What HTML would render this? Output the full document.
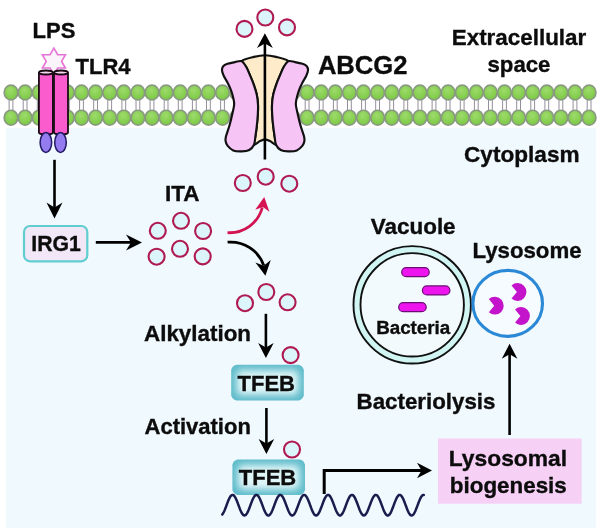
<!DOCTYPE html>
<html><head><meta charset="utf-8"><style>html,body{margin:0;padding:0;background:#fff;}svg{display:block;}</style></head>
<body><svg style="will-change:transform" width="600" height="528" viewBox="0 0 600 528">
<defs>
<radialGradient id="lip" cx="0.45" cy="0.35" r="0.65">
<stop offset="0" stop-color="#9edb6c"/><stop offset="1" stop-color="#7ac942"/></radialGradient>
<radialGradient id="tfeb" cx="0.5" cy="0.5" r="0.62" fx="0.5" fy="0.5">
<stop offset="0" stop-color="#d6f2f5"/><stop offset="0.55" stop-color="#a9dfe6"/><stop offset="1" stop-color="#5fbac9"/></radialGradient>
<filter id="glow" x="-30%" y="-50%" width="160%" height="200%"><feGaussianBlur stdDeviation="3.6"/></filter>
</defs>
<rect x="6" y="128" width="590" height="400" fill="#f0f9fd"/>
<g id="membrane">
<line x1="9.10" y1="100" x2="9.10" y2="110" stroke="#948f9c" stroke-width="1.0"/>
<line x1="12.90" y1="100" x2="12.90" y2="110" stroke="#948f9c" stroke-width="1.0"/>
<line x1="23.20" y1="100" x2="23.20" y2="110" stroke="#948f9c" stroke-width="1.0"/>
<line x1="27.00" y1="100" x2="27.00" y2="110" stroke="#948f9c" stroke-width="1.0"/>
<line x1="37.30" y1="100" x2="37.30" y2="110" stroke="#948f9c" stroke-width="1.0"/>
<line x1="41.10" y1="100" x2="41.10" y2="110" stroke="#948f9c" stroke-width="1.0"/>
<line x1="51.40" y1="100" x2="51.40" y2="110" stroke="#948f9c" stroke-width="1.0"/>
<line x1="55.20" y1="100" x2="55.20" y2="110" stroke="#948f9c" stroke-width="1.0"/>
<line x1="65.50" y1="100" x2="65.50" y2="110" stroke="#948f9c" stroke-width="1.0"/>
<line x1="69.30" y1="100" x2="69.30" y2="110" stroke="#948f9c" stroke-width="1.0"/>
<line x1="79.60" y1="100" x2="79.60" y2="110" stroke="#948f9c" stroke-width="1.0"/>
<line x1="83.40" y1="100" x2="83.40" y2="110" stroke="#948f9c" stroke-width="1.0"/>
<line x1="93.70" y1="100" x2="93.70" y2="110" stroke="#948f9c" stroke-width="1.0"/>
<line x1="97.50" y1="100" x2="97.50" y2="110" stroke="#948f9c" stroke-width="1.0"/>
<line x1="107.80" y1="100" x2="107.80" y2="110" stroke="#948f9c" stroke-width="1.0"/>
<line x1="111.60" y1="100" x2="111.60" y2="110" stroke="#948f9c" stroke-width="1.0"/>
<line x1="121.90" y1="100" x2="121.90" y2="110" stroke="#948f9c" stroke-width="1.0"/>
<line x1="125.70" y1="100" x2="125.70" y2="110" stroke="#948f9c" stroke-width="1.0"/>
<line x1="136.00" y1="100" x2="136.00" y2="110" stroke="#948f9c" stroke-width="1.0"/>
<line x1="139.80" y1="100" x2="139.80" y2="110" stroke="#948f9c" stroke-width="1.0"/>
<line x1="150.10" y1="100" x2="150.10" y2="110" stroke="#948f9c" stroke-width="1.0"/>
<line x1="153.90" y1="100" x2="153.90" y2="110" stroke="#948f9c" stroke-width="1.0"/>
<line x1="164.20" y1="100" x2="164.20" y2="110" stroke="#948f9c" stroke-width="1.0"/>
<line x1="168.00" y1="100" x2="168.00" y2="110" stroke="#948f9c" stroke-width="1.0"/>
<line x1="178.30" y1="100" x2="178.30" y2="110" stroke="#948f9c" stroke-width="1.0"/>
<line x1="182.10" y1="100" x2="182.10" y2="110" stroke="#948f9c" stroke-width="1.0"/>
<line x1="192.40" y1="100" x2="192.40" y2="110" stroke="#948f9c" stroke-width="1.0"/>
<line x1="196.20" y1="100" x2="196.20" y2="110" stroke="#948f9c" stroke-width="1.0"/>
<line x1="206.50" y1="100" x2="206.50" y2="110" stroke="#948f9c" stroke-width="1.0"/>
<line x1="210.30" y1="100" x2="210.30" y2="110" stroke="#948f9c" stroke-width="1.0"/>
<line x1="220.60" y1="100" x2="220.60" y2="110" stroke="#948f9c" stroke-width="1.0"/>
<line x1="224.40" y1="100" x2="224.40" y2="110" stroke="#948f9c" stroke-width="1.0"/>
<line x1="234.70" y1="100" x2="234.70" y2="110" stroke="#948f9c" stroke-width="1.0"/>
<line x1="238.50" y1="100" x2="238.50" y2="110" stroke="#948f9c" stroke-width="1.0"/>
<line x1="248.80" y1="100" x2="248.80" y2="110" stroke="#948f9c" stroke-width="1.0"/>
<line x1="252.60" y1="100" x2="252.60" y2="110" stroke="#948f9c" stroke-width="1.0"/>
<line x1="262.90" y1="100" x2="262.90" y2="110" stroke="#948f9c" stroke-width="1.0"/>
<line x1="266.70" y1="100" x2="266.70" y2="110" stroke="#948f9c" stroke-width="1.0"/>
<line x1="277.00" y1="100" x2="277.00" y2="110" stroke="#948f9c" stroke-width="1.0"/>
<line x1="280.80" y1="100" x2="280.80" y2="110" stroke="#948f9c" stroke-width="1.0"/>
<line x1="291.10" y1="100" x2="291.10" y2="110" stroke="#948f9c" stroke-width="1.0"/>
<line x1="294.90" y1="100" x2="294.90" y2="110" stroke="#948f9c" stroke-width="1.0"/>
<line x1="305.20" y1="100" x2="305.20" y2="110" stroke="#948f9c" stroke-width="1.0"/>
<line x1="309.00" y1="100" x2="309.00" y2="110" stroke="#948f9c" stroke-width="1.0"/>
<line x1="319.30" y1="100" x2="319.30" y2="110" stroke="#948f9c" stroke-width="1.0"/>
<line x1="323.10" y1="100" x2="323.10" y2="110" stroke="#948f9c" stroke-width="1.0"/>
<line x1="333.40" y1="100" x2="333.40" y2="110" stroke="#948f9c" stroke-width="1.0"/>
<line x1="337.20" y1="100" x2="337.20" y2="110" stroke="#948f9c" stroke-width="1.0"/>
<line x1="347.50" y1="100" x2="347.50" y2="110" stroke="#948f9c" stroke-width="1.0"/>
<line x1="351.30" y1="100" x2="351.30" y2="110" stroke="#948f9c" stroke-width="1.0"/>
<line x1="361.60" y1="100" x2="361.60" y2="110" stroke="#948f9c" stroke-width="1.0"/>
<line x1="365.40" y1="100" x2="365.40" y2="110" stroke="#948f9c" stroke-width="1.0"/>
<line x1="375.70" y1="100" x2="375.70" y2="110" stroke="#948f9c" stroke-width="1.0"/>
<line x1="379.50" y1="100" x2="379.50" y2="110" stroke="#948f9c" stroke-width="1.0"/>
<line x1="389.80" y1="100" x2="389.80" y2="110" stroke="#948f9c" stroke-width="1.0"/>
<line x1="393.60" y1="100" x2="393.60" y2="110" stroke="#948f9c" stroke-width="1.0"/>
<line x1="403.90" y1="100" x2="403.90" y2="110" stroke="#948f9c" stroke-width="1.0"/>
<line x1="407.70" y1="100" x2="407.70" y2="110" stroke="#948f9c" stroke-width="1.0"/>
<line x1="418.00" y1="100" x2="418.00" y2="110" stroke="#948f9c" stroke-width="1.0"/>
<line x1="421.80" y1="100" x2="421.80" y2="110" stroke="#948f9c" stroke-width="1.0"/>
<line x1="432.10" y1="100" x2="432.10" y2="110" stroke="#948f9c" stroke-width="1.0"/>
<line x1="435.90" y1="100" x2="435.90" y2="110" stroke="#948f9c" stroke-width="1.0"/>
<line x1="446.20" y1="100" x2="446.20" y2="110" stroke="#948f9c" stroke-width="1.0"/>
<line x1="450.00" y1="100" x2="450.00" y2="110" stroke="#948f9c" stroke-width="1.0"/>
<line x1="460.30" y1="100" x2="460.30" y2="110" stroke="#948f9c" stroke-width="1.0"/>
<line x1="464.10" y1="100" x2="464.10" y2="110" stroke="#948f9c" stroke-width="1.0"/>
<line x1="474.40" y1="100" x2="474.40" y2="110" stroke="#948f9c" stroke-width="1.0"/>
<line x1="478.20" y1="100" x2="478.20" y2="110" stroke="#948f9c" stroke-width="1.0"/>
<line x1="488.50" y1="100" x2="488.50" y2="110" stroke="#948f9c" stroke-width="1.0"/>
<line x1="492.30" y1="100" x2="492.30" y2="110" stroke="#948f9c" stroke-width="1.0"/>
<line x1="502.60" y1="100" x2="502.60" y2="110" stroke="#948f9c" stroke-width="1.0"/>
<line x1="506.40" y1="100" x2="506.40" y2="110" stroke="#948f9c" stroke-width="1.0"/>
<line x1="516.70" y1="100" x2="516.70" y2="110" stroke="#948f9c" stroke-width="1.0"/>
<line x1="520.50" y1="100" x2="520.50" y2="110" stroke="#948f9c" stroke-width="1.0"/>
<line x1="530.80" y1="100" x2="530.80" y2="110" stroke="#948f9c" stroke-width="1.0"/>
<line x1="534.60" y1="100" x2="534.60" y2="110" stroke="#948f9c" stroke-width="1.0"/>
<line x1="544.90" y1="100" x2="544.90" y2="110" stroke="#948f9c" stroke-width="1.0"/>
<line x1="548.70" y1="100" x2="548.70" y2="110" stroke="#948f9c" stroke-width="1.0"/>
<line x1="559.00" y1="100" x2="559.00" y2="110" stroke="#948f9c" stroke-width="1.0"/>
<line x1="562.80" y1="100" x2="562.80" y2="110" stroke="#948f9c" stroke-width="1.0"/>
<line x1="573.10" y1="100" x2="573.10" y2="110" stroke="#948f9c" stroke-width="1.0"/>
<line x1="576.90" y1="100" x2="576.90" y2="110" stroke="#948f9c" stroke-width="1.0"/>
<line x1="587.20" y1="100" x2="587.20" y2="110" stroke="#948f9c" stroke-width="1.0"/>
<line x1="591.00" y1="100" x2="591.00" y2="110" stroke="#948f9c" stroke-width="1.0"/>
<ellipse cx="11.00" cy="92.5" rx="6.8" ry="7.45" fill="url(#lip)" stroke="#8a9a82" stroke-width="1.7"/>
<ellipse cx="11.00" cy="117.7" rx="6.8" ry="7.45" fill="url(#lip)" stroke="#8a9a82" stroke-width="1.7"/>
<ellipse cx="25.10" cy="92.5" rx="6.8" ry="7.45" fill="url(#lip)" stroke="#8a9a82" stroke-width="1.7"/>
<ellipse cx="25.10" cy="117.7" rx="6.8" ry="7.45" fill="url(#lip)" stroke="#8a9a82" stroke-width="1.7"/>
<ellipse cx="39.20" cy="92.5" rx="6.8" ry="7.45" fill="url(#lip)" stroke="#8a9a82" stroke-width="1.7"/>
<ellipse cx="39.20" cy="117.7" rx="6.8" ry="7.45" fill="url(#lip)" stroke="#8a9a82" stroke-width="1.7"/>
<ellipse cx="53.30" cy="92.5" rx="6.8" ry="7.45" fill="url(#lip)" stroke="#8a9a82" stroke-width="1.7"/>
<ellipse cx="53.30" cy="117.7" rx="6.8" ry="7.45" fill="url(#lip)" stroke="#8a9a82" stroke-width="1.7"/>
<ellipse cx="67.40" cy="92.5" rx="6.8" ry="7.45" fill="url(#lip)" stroke="#8a9a82" stroke-width="1.7"/>
<ellipse cx="67.40" cy="117.7" rx="6.8" ry="7.45" fill="url(#lip)" stroke="#8a9a82" stroke-width="1.7"/>
<ellipse cx="81.50" cy="92.5" rx="6.8" ry="7.45" fill="url(#lip)" stroke="#8a9a82" stroke-width="1.7"/>
<ellipse cx="81.50" cy="117.7" rx="6.8" ry="7.45" fill="url(#lip)" stroke="#8a9a82" stroke-width="1.7"/>
<ellipse cx="95.60" cy="92.5" rx="6.8" ry="7.45" fill="url(#lip)" stroke="#8a9a82" stroke-width="1.7"/>
<ellipse cx="95.60" cy="117.7" rx="6.8" ry="7.45" fill="url(#lip)" stroke="#8a9a82" stroke-width="1.7"/>
<ellipse cx="109.70" cy="92.5" rx="6.8" ry="7.45" fill="url(#lip)" stroke="#8a9a82" stroke-width="1.7"/>
<ellipse cx="109.70" cy="117.7" rx="6.8" ry="7.45" fill="url(#lip)" stroke="#8a9a82" stroke-width="1.7"/>
<ellipse cx="123.80" cy="92.5" rx="6.8" ry="7.45" fill="url(#lip)" stroke="#8a9a82" stroke-width="1.7"/>
<ellipse cx="123.80" cy="117.7" rx="6.8" ry="7.45" fill="url(#lip)" stroke="#8a9a82" stroke-width="1.7"/>
<ellipse cx="137.90" cy="92.5" rx="6.8" ry="7.45" fill="url(#lip)" stroke="#8a9a82" stroke-width="1.7"/>
<ellipse cx="137.90" cy="117.7" rx="6.8" ry="7.45" fill="url(#lip)" stroke="#8a9a82" stroke-width="1.7"/>
<ellipse cx="152.00" cy="92.5" rx="6.8" ry="7.45" fill="url(#lip)" stroke="#8a9a82" stroke-width="1.7"/>
<ellipse cx="152.00" cy="117.7" rx="6.8" ry="7.45" fill="url(#lip)" stroke="#8a9a82" stroke-width="1.7"/>
<ellipse cx="166.10" cy="92.5" rx="6.8" ry="7.45" fill="url(#lip)" stroke="#8a9a82" stroke-width="1.7"/>
<ellipse cx="166.10" cy="117.7" rx="6.8" ry="7.45" fill="url(#lip)" stroke="#8a9a82" stroke-width="1.7"/>
<ellipse cx="180.20" cy="92.5" rx="6.8" ry="7.45" fill="url(#lip)" stroke="#8a9a82" stroke-width="1.7"/>
<ellipse cx="180.20" cy="117.7" rx="6.8" ry="7.45" fill="url(#lip)" stroke="#8a9a82" stroke-width="1.7"/>
<ellipse cx="194.30" cy="92.5" rx="6.8" ry="7.45" fill="url(#lip)" stroke="#8a9a82" stroke-width="1.7"/>
<ellipse cx="194.30" cy="117.7" rx="6.8" ry="7.45" fill="url(#lip)" stroke="#8a9a82" stroke-width="1.7"/>
<ellipse cx="208.40" cy="92.5" rx="6.8" ry="7.45" fill="url(#lip)" stroke="#8a9a82" stroke-width="1.7"/>
<ellipse cx="208.40" cy="117.7" rx="6.8" ry="7.45" fill="url(#lip)" stroke="#8a9a82" stroke-width="1.7"/>
<ellipse cx="222.50" cy="92.5" rx="6.8" ry="7.45" fill="url(#lip)" stroke="#8a9a82" stroke-width="1.7"/>
<ellipse cx="222.50" cy="117.7" rx="6.8" ry="7.45" fill="url(#lip)" stroke="#8a9a82" stroke-width="1.7"/>
<ellipse cx="236.60" cy="92.5" rx="6.8" ry="7.45" fill="url(#lip)" stroke="#8a9a82" stroke-width="1.7"/>
<ellipse cx="236.60" cy="117.7" rx="6.8" ry="7.45" fill="url(#lip)" stroke="#8a9a82" stroke-width="1.7"/>
<ellipse cx="250.70" cy="92.5" rx="6.8" ry="7.45" fill="url(#lip)" stroke="#8a9a82" stroke-width="1.7"/>
<ellipse cx="250.70" cy="117.7" rx="6.8" ry="7.45" fill="url(#lip)" stroke="#8a9a82" stroke-width="1.7"/>
<ellipse cx="264.80" cy="92.5" rx="6.8" ry="7.45" fill="url(#lip)" stroke="#8a9a82" stroke-width="1.7"/>
<ellipse cx="264.80" cy="117.7" rx="6.8" ry="7.45" fill="url(#lip)" stroke="#8a9a82" stroke-width="1.7"/>
<ellipse cx="278.90" cy="92.5" rx="6.8" ry="7.45" fill="url(#lip)" stroke="#8a9a82" stroke-width="1.7"/>
<ellipse cx="278.90" cy="117.7" rx="6.8" ry="7.45" fill="url(#lip)" stroke="#8a9a82" stroke-width="1.7"/>
<ellipse cx="293.00" cy="92.5" rx="6.8" ry="7.45" fill="url(#lip)" stroke="#8a9a82" stroke-width="1.7"/>
<ellipse cx="293.00" cy="117.7" rx="6.8" ry="7.45" fill="url(#lip)" stroke="#8a9a82" stroke-width="1.7"/>
<ellipse cx="307.10" cy="92.5" rx="6.8" ry="7.45" fill="url(#lip)" stroke="#8a9a82" stroke-width="1.7"/>
<ellipse cx="307.10" cy="117.7" rx="6.8" ry="7.45" fill="url(#lip)" stroke="#8a9a82" stroke-width="1.7"/>
<ellipse cx="321.20" cy="92.5" rx="6.8" ry="7.45" fill="url(#lip)" stroke="#8a9a82" stroke-width="1.7"/>
<ellipse cx="321.20" cy="117.7" rx="6.8" ry="7.45" fill="url(#lip)" stroke="#8a9a82" stroke-width="1.7"/>
<ellipse cx="335.30" cy="92.5" rx="6.8" ry="7.45" fill="url(#lip)" stroke="#8a9a82" stroke-width="1.7"/>
<ellipse cx="335.30" cy="117.7" rx="6.8" ry="7.45" fill="url(#lip)" stroke="#8a9a82" stroke-width="1.7"/>
<ellipse cx="349.40" cy="92.5" rx="6.8" ry="7.45" fill="url(#lip)" stroke="#8a9a82" stroke-width="1.7"/>
<ellipse cx="349.40" cy="117.7" rx="6.8" ry="7.45" fill="url(#lip)" stroke="#8a9a82" stroke-width="1.7"/>
<ellipse cx="363.50" cy="92.5" rx="6.8" ry="7.45" fill="url(#lip)" stroke="#8a9a82" stroke-width="1.7"/>
<ellipse cx="363.50" cy="117.7" rx="6.8" ry="7.45" fill="url(#lip)" stroke="#8a9a82" stroke-width="1.7"/>
<ellipse cx="377.60" cy="92.5" rx="6.8" ry="7.45" fill="url(#lip)" stroke="#8a9a82" stroke-width="1.7"/>
<ellipse cx="377.60" cy="117.7" rx="6.8" ry="7.45" fill="url(#lip)" stroke="#8a9a82" stroke-width="1.7"/>
<ellipse cx="391.70" cy="92.5" rx="6.8" ry="7.45" fill="url(#lip)" stroke="#8a9a82" stroke-width="1.7"/>
<ellipse cx="391.70" cy="117.7" rx="6.8" ry="7.45" fill="url(#lip)" stroke="#8a9a82" stroke-width="1.7"/>
<ellipse cx="405.80" cy="92.5" rx="6.8" ry="7.45" fill="url(#lip)" stroke="#8a9a82" stroke-width="1.7"/>
<ellipse cx="405.80" cy="117.7" rx="6.8" ry="7.45" fill="url(#lip)" stroke="#8a9a82" stroke-width="1.7"/>
<ellipse cx="419.90" cy="92.5" rx="6.8" ry="7.45" fill="url(#lip)" stroke="#8a9a82" stroke-width="1.7"/>
<ellipse cx="419.90" cy="117.7" rx="6.8" ry="7.45" fill="url(#lip)" stroke="#8a9a82" stroke-width="1.7"/>
<ellipse cx="434.00" cy="92.5" rx="6.8" ry="7.45" fill="url(#lip)" stroke="#8a9a82" stroke-width="1.7"/>
<ellipse cx="434.00" cy="117.7" rx="6.8" ry="7.45" fill="url(#lip)" stroke="#8a9a82" stroke-width="1.7"/>
<ellipse cx="448.10" cy="92.5" rx="6.8" ry="7.45" fill="url(#lip)" stroke="#8a9a82" stroke-width="1.7"/>
<ellipse cx="448.10" cy="117.7" rx="6.8" ry="7.45" fill="url(#lip)" stroke="#8a9a82" stroke-width="1.7"/>
<ellipse cx="462.20" cy="92.5" rx="6.8" ry="7.45" fill="url(#lip)" stroke="#8a9a82" stroke-width="1.7"/>
<ellipse cx="462.20" cy="117.7" rx="6.8" ry="7.45" fill="url(#lip)" stroke="#8a9a82" stroke-width="1.7"/>
<ellipse cx="476.30" cy="92.5" rx="6.8" ry="7.45" fill="url(#lip)" stroke="#8a9a82" stroke-width="1.7"/>
<ellipse cx="476.30" cy="117.7" rx="6.8" ry="7.45" fill="url(#lip)" stroke="#8a9a82" stroke-width="1.7"/>
<ellipse cx="490.40" cy="92.5" rx="6.8" ry="7.45" fill="url(#lip)" stroke="#8a9a82" stroke-width="1.7"/>
<ellipse cx="490.40" cy="117.7" rx="6.8" ry="7.45" fill="url(#lip)" stroke="#8a9a82" stroke-width="1.7"/>
<ellipse cx="504.50" cy="92.5" rx="6.8" ry="7.45" fill="url(#lip)" stroke="#8a9a82" stroke-width="1.7"/>
<ellipse cx="504.50" cy="117.7" rx="6.8" ry="7.45" fill="url(#lip)" stroke="#8a9a82" stroke-width="1.7"/>
<ellipse cx="518.60" cy="92.5" rx="6.8" ry="7.45" fill="url(#lip)" stroke="#8a9a82" stroke-width="1.7"/>
<ellipse cx="518.60" cy="117.7" rx="6.8" ry="7.45" fill="url(#lip)" stroke="#8a9a82" stroke-width="1.7"/>
<ellipse cx="532.70" cy="92.5" rx="6.8" ry="7.45" fill="url(#lip)" stroke="#8a9a82" stroke-width="1.7"/>
<ellipse cx="532.70" cy="117.7" rx="6.8" ry="7.45" fill="url(#lip)" stroke="#8a9a82" stroke-width="1.7"/>
<ellipse cx="546.80" cy="92.5" rx="6.8" ry="7.45" fill="url(#lip)" stroke="#8a9a82" stroke-width="1.7"/>
<ellipse cx="546.80" cy="117.7" rx="6.8" ry="7.45" fill="url(#lip)" stroke="#8a9a82" stroke-width="1.7"/>
<ellipse cx="560.90" cy="92.5" rx="6.8" ry="7.45" fill="url(#lip)" stroke="#8a9a82" stroke-width="1.7"/>
<ellipse cx="560.90" cy="117.7" rx="6.8" ry="7.45" fill="url(#lip)" stroke="#8a9a82" stroke-width="1.7"/>
<ellipse cx="575.00" cy="92.5" rx="6.8" ry="7.45" fill="url(#lip)" stroke="#8a9a82" stroke-width="1.7"/>
<ellipse cx="575.00" cy="117.7" rx="6.8" ry="7.45" fill="url(#lip)" stroke="#8a9a82" stroke-width="1.7"/>
<ellipse cx="589.10" cy="92.5" rx="6.8" ry="7.45" fill="url(#lip)" stroke="#8a9a82" stroke-width="1.7"/>
<ellipse cx="589.10" cy="117.7" rx="6.8" ry="7.45" fill="url(#lip)" stroke="#8a9a82" stroke-width="1.7"/>
</g>
<g id="tlr4">
<path d="M53.90,48.10 L57.74,54.75 L65.42,54.75 L61.58,61.40 L65.42,68.05 L57.74,68.05 L53.90,74.70 L50.06,68.05 L42.38,68.05 L46.22,61.40 L42.38,54.75 L50.06,54.75Z" fill="#fbf4fb" stroke="#e672d6" stroke-width="1.6" stroke-linejoin="miter"/>
<path d="M38.9,72.5 V132.5 A7.0,2 0 0 0 52.9,132.5 V72.5" fill="#fb5ccd" stroke="#1a0a14" stroke-width="1.8"/>
<ellipse cx="45.9" cy="72.5" rx="7.0" ry="2.0" fill="#f3d7ee" stroke="#1a0a14" stroke-width="1.8"/>
<path d="M54.0,72.5 V132.5 A7.0,2 0 0 0 68.0,132.5 V72.5" fill="#fb5ccd" stroke="#1a0a14" stroke-width="1.8"/>
<ellipse cx="61.0" cy="72.5" rx="7.0" ry="2.0" fill="#f3d7ee" stroke="#1a0a14" stroke-width="1.8"/>
<ellipse cx="45.9" cy="142.5" rx="5.8" ry="9.9" fill="#957bf0" stroke="#221a66" stroke-width="1.5"/>
<ellipse cx="60.5" cy="142.5" rx="5.8" ry="9.9" fill="#957bf0" stroke="#221a66" stroke-width="1.5"/>
</g>
<g id="abcg2">
<path d="M241.70,61.20 C242.95,59.47 250.02,57.90 253.90,56.90 C257.78,55.90 261.30,55.20 265.00,55.20 C268.70,55.20 272.22,55.90 276.10,56.90 C279.98,57.90 287.05,59.47 288.30,61.20 C289.55,62.93 285.02,64.87 283.60,67.30 C282.18,69.73 281.07,72.80 279.80,75.80 C278.53,78.80 277.10,82.13 276.00,85.30 C274.90,88.47 273.87,91.52 273.20,94.80 C272.53,98.08 272.17,101.72 272.00,105.00 C271.83,108.28 272.00,111.03 272.20,114.50 C272.40,117.97 272.80,122.17 273.20,125.80 C273.60,129.43 274.13,133.13 274.60,136.30 C275.07,139.47 276.77,144.02 276.00,144.80 C275.23,145.58 271.83,141.92 270.00,141.00 C268.17,140.08 266.67,139.30 265.00,139.30 C263.33,139.30 261.83,140.08 260.00,141.00 C258.17,141.92 254.77,145.58 254.00,144.80 C253.23,144.02 254.93,139.47 255.40,136.30 C255.87,133.13 256.40,129.43 256.80,125.80 C257.20,122.17 257.60,117.97 257.80,114.50 C258.00,111.03 258.17,108.28 258.00,105.00 C257.83,101.72 257.47,98.08 256.80,94.80 C256.13,91.52 255.10,88.47 254.00,85.30 C252.90,82.13 251.47,78.80 250.20,75.80 C248.93,72.80 247.82,69.73 246.40,67.30 C244.98,64.87 240.45,62.93 241.70,61.20Z" fill="#fdebc9" stroke="#111" stroke-width="2.15" stroke-linejoin="round"/>
<path d="M241.70,61.20 C243.60,62.07 244.98,64.87 246.40,67.30 C247.82,69.73 248.93,72.80 250.20,75.80 C251.47,78.80 252.90,82.13 254.00,85.30 C255.10,88.47 256.13,91.52 256.80,94.80 C257.47,98.08 257.83,101.72 258.00,105.00 C258.17,108.28 258.00,111.03 257.80,114.50 C257.60,117.97 257.20,122.17 256.80,125.80 C256.40,129.43 255.87,133.13 255.40,136.30 C254.93,139.47 255.03,142.52 254.00,144.80 C252.97,147.08 251.30,148.90 249.25,150.00 C247.20,151.10 244.38,151.32 241.70,151.40 C239.02,151.48 235.57,151.45 233.20,150.50 C230.83,149.55 228.77,147.28 227.50,145.70 C226.23,144.12 225.85,142.57 225.60,141.00 C225.35,139.43 225.37,138.83 226.00,136.30 C226.63,133.77 228.37,129.43 229.40,125.80 C230.43,122.17 231.42,117.97 232.20,114.50 C232.98,111.03 233.87,107.50 234.10,105.00 C234.33,102.50 234.07,101.83 233.60,99.50 C233.13,97.17 232.32,93.83 231.30,91.00 C230.28,88.17 228.77,85.03 227.50,82.50 C226.23,79.97 224.62,77.85 223.70,75.80 C222.78,73.75 222.08,71.80 222.00,70.20 C221.92,68.60 222.28,67.27 223.20,66.20 C224.12,65.13 225.53,64.48 227.50,63.80 C229.47,63.12 232.63,62.53 235.00,62.10 C237.37,61.67 239.80,60.33 241.70,61.20Z" fill="#f7c4f6" stroke="#111" stroke-width="2.15" stroke-linejoin="round"/>
<path d="M288.30,61.20 C286.40,62.07 285.02,64.87 283.60,67.30 C282.18,69.73 281.07,72.80 279.80,75.80 C278.53,78.80 277.10,82.13 276.00,85.30 C274.90,88.47 273.87,91.52 273.20,94.80 C272.53,98.08 272.17,101.72 272.00,105.00 C271.83,108.28 272.00,111.03 272.20,114.50 C272.40,117.97 272.80,122.17 273.20,125.80 C273.60,129.43 274.13,133.13 274.60,136.30 C275.07,139.47 274.98,142.52 276.00,144.80 C277.02,147.08 278.70,148.90 280.75,150.00 C282.80,151.10 285.62,151.32 288.30,151.40 C290.98,151.48 294.43,151.45 296.80,150.50 C299.17,149.55 301.23,147.28 302.50,145.70 C303.77,144.12 304.15,142.57 304.40,141.00 C304.65,139.43 304.63,138.83 304.00,136.30 C303.37,133.77 301.63,129.43 300.60,125.80 C299.57,122.17 298.58,117.97 297.80,114.50 C297.02,111.03 296.13,107.50 295.90,105.00 C295.67,102.50 295.93,101.83 296.40,99.50 C296.87,97.17 297.68,93.83 298.70,91.00 C299.72,88.17 301.23,85.03 302.50,82.50 C303.77,79.97 305.38,77.85 306.30,75.80 C307.22,73.75 307.92,71.80 308.00,70.20 C308.08,68.60 307.72,67.27 306.80,66.20 C305.88,65.13 304.47,64.48 302.50,63.80 C300.53,63.12 297.37,62.53 295.00,62.10 C292.63,61.67 290.20,60.33 288.30,61.20Z" fill="#f7c4f6" stroke="#111" stroke-width="2.15" stroke-linejoin="round"/>
</g>
<g id="arrows">
<line x1="264.9" y1="159.5" x2="264.9" y2="40" stroke="#000" stroke-width="2.6"/>
<path d="M264.90,33.30 L272.80,48.10 L264.90,43.60 L257.00,48.10Z" fill="#000"/>
<line x1="54.5" y1="159.8" x2="54.5" y2="210" stroke="#000" stroke-width="2.6"/>
<path d="M54.50,218.40 L46.50,202.40 L54.50,207.40 L62.50,202.40Z" fill="#000"/>
<line x1="95.8" y1="242.4" x2="134" y2="242.4" stroke="#000" stroke-width="2.9"/>
<path d="M142.00,242.40 L126.00,250.40 L131.00,242.40 L126.00,234.40Z" fill="#000"/>
<path d="M227.5,232.7 A33.8,33.8 0 0 0 262.3,207.5" fill="none" stroke="#d21452" stroke-width="2.8"/>
<path d="M264.25,197.00 L269.43,211.87 L262.86,206.90 L255.17,209.86Z" fill="#d61454"/>
<path d="M227.6,242.2 A35.1,35.1 0 0 1 263.8,265.5" fill="none" stroke="#000" stroke-width="2.8"/>
<path d="M265.40,275.80 L255.43,262.39 L263.79,265.63 L270.74,259.97Z" fill="#000"/>
<line x1="265.9" y1="313.8" x2="265.9" y2="350" stroke="#000" stroke-width="2.6"/>
<path d="M265.90,358.10 L258.15,343.10 L265.90,347.60 L273.65,343.10Z" fill="#000"/>
<line x1="266.4" y1="408" x2="266.4" y2="446" stroke="#000" stroke-width="2.6"/>
<path d="M266.40,454.00 L258.65,439.00 L266.40,443.50 L274.15,439.00Z" fill="#000"/>
<line x1="509.6" y1="435" x2="509.6" y2="351" stroke="#000" stroke-width="2.6"/>
<path d="M509.60,343.70 L517.40,358.70 L509.60,354.20 L501.80,358.70Z" fill="#000"/>
<path d="M324.2,494 V470.5 H424" fill="none" stroke="#000" stroke-width="3"/>
<path d="M432.00,470.50 L417.00,478.25 L421.50,470.50 L417.00,462.75Z" fill="#000"/>
</g>
<g id="ita">
<circle cx="244.5" cy="28.9" r="8" fill="#dcf5fa" stroke="#b01a52" stroke-width="2.1"/>
<circle cx="265.3" cy="17.5" r="8" fill="#dcf5fa" stroke="#b01a52" stroke-width="2.1"/>
<circle cx="287" cy="27.4" r="8" fill="#dcf5fa" stroke="#b01a52" stroke-width="2.1"/>
<circle cx="242.8" cy="183" r="8" fill="#dcf5fa" stroke="#b01a52" stroke-width="2.1"/>
<circle cx="265.7" cy="176.7" r="8" fill="#dcf5fa" stroke="#b01a52" stroke-width="2.1"/>
<circle cx="289.3" cy="183.7" r="8" fill="#dcf5fa" stroke="#b01a52" stroke-width="2.1"/>
<circle cx="181" cy="220.8" r="8" fill="#dcf5fa" stroke="#b01a52" stroke-width="2.1"/>
<circle cx="157.8" cy="230.8" r="8" fill="#dcf5fa" stroke="#b01a52" stroke-width="2.1"/>
<circle cx="203.1" cy="231" r="8" fill="#dcf5fa" stroke="#b01a52" stroke-width="2.1"/>
<circle cx="156.6" cy="256.7" r="8" fill="#dcf5fa" stroke="#b01a52" stroke-width="2.1"/>
<circle cx="180" cy="248.8" r="8" fill="#dcf5fa" stroke="#b01a52" stroke-width="2.1"/>
<circle cx="202.7" cy="256.4" r="8" fill="#dcf5fa" stroke="#b01a52" stroke-width="2.1"/>
<circle cx="245" cy="303.2" r="8" fill="#dcf5fa" stroke="#b01a52" stroke-width="2.1"/>
<circle cx="266.3" cy="292" r="8" fill="#dcf5fa" stroke="#b01a52" stroke-width="2.1"/>
<circle cx="287.6" cy="302.3" r="8" fill="#dcf5fa" stroke="#b01a52" stroke-width="2.1"/>
<circle cx="290.6" cy="355.1" r="8" fill="#dcf5fa" stroke="#b01a52" stroke-width="2.1"/>
<circle cx="292" cy="449.5" r="8" fill="#dcf5fa" stroke="#b01a52" stroke-width="2.1"/>
</g>
<rect x="24" y="226" width="63.3" height="35.3" rx="6" ry="6" fill="#f2e7f7" stroke="#60cdd0" stroke-width="2.2"/>
<clipPath id="tc0"><path d="M236.2,364.8 H298.79999999999995 Q302.59999999999997,366.0 303.79999999999995,369.8 V395.6 Q302.59999999999997,399.40000000000003 298.79999999999995,400.6 H236.2 Q232.39999999999998,399.40000000000003 231.2,395.6 V369.8 Q232.39999999999998,366.0 236.2,364.8Z"/></clipPath>
<path d="M236.2,364.8 H298.79999999999995 Q302.59999999999997,366.0 303.79999999999995,369.8 V395.6 Q302.59999999999997,399.40000000000003 298.79999999999995,400.6 H236.2 Q232.39999999999998,399.40000000000003 231.2,395.6 V369.8 Q232.39999999999998,366.0 236.2,364.8Z" fill="#60bccb"/>
<g clip-path="url(#tc0)"><rect x="236.7" y="370.3" width="61.599999999999994" height="24.799999999999997" rx="5" fill="#dff5f7" filter="url(#glow)"/></g>
<clipPath id="tc1"><path d="M237.4,459.6 H300.0 Q303.8,460.8 305.0,464.6 V490.0 Q303.8,493.8 300.0,495.0 H237.4 Q233.6,493.8 232.4,490.0 V464.6 Q233.6,460.8 237.4,459.6Z"/></clipPath>
<path d="M237.4,459.6 H300.0 Q303.8,460.8 305.0,464.6 V490.0 Q303.8,493.8 300.0,495.0 H237.4 Q233.6,493.8 232.4,490.0 V464.6 Q233.6,460.8 237.4,459.6Z" fill="#60bccb"/>
<g clip-path="url(#tc1)"><rect x="237.9" y="465.1" width="61.599999999999994" height="24.4" rx="5" fill="#dff5f7" filter="url(#glow)"/></g>
<polyline points="222.30,514.49 222.80,513.82 223.31,513.00 223.81,512.04 224.31,510.96 224.82,509.78 225.32,508.52 225.83,507.20 226.33,505.85 226.83,504.49 227.34,503.13 227.84,501.82 228.34,500.56 228.85,499.39 229.35,498.32 229.86,497.36 230.36,496.55 230.86,495.89 231.37,495.39 231.87,495.06 232.38,494.91 232.88,494.94 233.38,495.15 233.89,495.54 234.39,496.10 234.89,496.81 235.40,497.68 235.90,498.67 236.41,499.78 236.91,500.99 237.41,502.27 237.92,503.60 238.42,504.96 238.92,506.32 239.43,507.66 239.93,508.96 240.44,510.20 240.94,511.34 241.44,512.38 241.95,513.29 242.45,514.07 242.95,514.68 243.46,515.13 243.96,515.40 244.47,515.50 244.97,515.41 245.47,515.15 245.98,514.71 246.48,514.11 246.98,513.34 247.49,512.44 247.99,511.41 248.50,510.27 249.00,509.04 249.50,507.74 250.01,506.40 250.51,505.04 251.01,503.68 251.52,502.34 252.02,501.06 252.53,499.85 253.03,498.74 253.53,497.73 254.04,496.86 254.54,496.13 255.04,495.57 255.55,495.17 256.05,494.95 256.56,494.91 257.06,495.05 257.56,495.36 258.07,495.85 258.57,496.50 259.07,497.31 259.58,498.25 260.08,499.32 260.59,500.49 261.09,501.74 261.59,503.05 262.10,504.40 262.60,505.77 263.10,507.12 263.61,508.44 264.11,509.71 264.62,510.89 265.12,511.98 265.62,512.94 266.13,513.77 266.63,514.45 267.13,514.97 267.64,515.31 268.14,515.48 268.64,515.47 269.15,515.28 269.65,514.91 270.16,514.37 270.66,513.67 271.16,512.82 271.67,511.84 272.17,510.74 272.68,509.54 273.18,508.27 273.68,506.95 274.19,505.59 274.69,504.23 275.19,502.88 275.70,501.57 276.20,500.33 276.71,499.17 277.21,498.12 277.71,497.20 278.22,496.41 278.72,495.78 279.22,495.31 279.73,495.02 280.23,494.90 280.74,494.97 281.24,495.21 281.74,495.63 282.25,496.22 282.75,496.97 283.25,497.86 283.76,498.88 284.26,500.01 284.76,501.23 285.27,502.52 285.77,503.86 286.28,505.22 286.78,506.58 287.28,507.91 287.79,509.20 288.29,510.42 288.80,511.55 289.30,512.57 289.80,513.45 290.31,514.20 290.81,514.78 291.31,515.20 291.82,515.44 292.32,515.50 292.83,515.38 293.33,515.08 293.83,514.61 294.34,513.97 294.84,513.18 295.34,512.25 295.85,511.20 296.35,510.04 296.86,508.79 297.36,507.49 297.86,506.14 298.37,504.78 298.87,503.42 299.37,502.10 299.88,500.82 300.38,499.63 300.88,498.53 301.39,497.56 301.89,496.71 302.40,496.01 302.90,495.48 303.40,495.11 303.91,494.93 304.41,494.92 304.92,495.09 305.42,495.44 305.92,495.96 306.43,496.65 306.93,497.48 307.43,498.45 307.94,499.54 308.44,500.72 308.94,501.99 309.45,503.31 309.95,504.66 310.46,506.03 310.96,507.38 311.46,508.69 311.97,509.94 312.47,511.11 312.98,512.17 313.48,513.11 313.98,513.91 314.49,514.56 314.99,515.05 315.49,515.36 316.00,515.49 316.50,515.45 317.00,515.22 317.51,514.82 318.01,514.25 318.52,513.52 319.02,512.64 319.52,511.64 320.03,510.52 320.53,509.31 321.04,508.02 321.54,506.69 322.04,505.33 322.55,503.97 323.05,502.63 323.55,501.33 324.06,500.10 324.56,498.96 325.06,497.94 325.57,497.03 326.07,496.28 326.58,495.67 327.08,495.24 327.58,494.98 328.09,494.90 328.59,495.00 329.10,495.28 329.60,495.73 330.10,496.35 330.61,497.13 331.11,498.04 331.61,499.08 332.12,500.23 332.62,501.47 333.12,502.77 333.63,504.11 334.13,505.48 334.64,506.84 335.14,508.17 335.64,509.44 336.15,510.65 336.65,511.75 337.16,512.75 337.66,513.61 338.16,514.32 338.67,514.87 339.17,515.26 339.67,515.46 340.18,515.49 340.68,515.33 341.19,515.00 341.69,514.50 342.19,513.83 342.70,513.01 343.20,512.06 343.70,510.98 344.21,509.81 344.71,508.55 345.22,507.23 345.72,505.88 346.22,504.52 346.73,503.16 347.23,501.85 347.73,500.59 348.24,499.41 348.74,498.34 349.25,497.38 349.75,496.57 350.25,495.90 350.76,495.40 351.26,495.06 351.76,494.91 352.27,494.94 352.77,495.15 353.27,495.53 353.78,496.08 354.28,496.80 354.79,497.66 355.29,498.65 355.79,499.76 356.30,500.96 356.80,502.24 357.31,503.57 357.81,504.93 358.31,506.29 358.82,507.63 359.32,508.93 359.82,510.17 360.33,511.32 360.83,512.36 361.34,513.28 361.84,514.05 362.34,514.67 362.85,515.12 363.35,515.40 363.85,515.50 364.36,515.42 364.86,515.16 365.37,514.72 365.87,514.12 366.37,513.36 366.88,512.46 367.38,511.43 367.88,510.29 368.39,509.07 368.89,507.77 369.39,506.43 369.90,505.07 370.40,503.71 370.91,502.37 371.41,501.09 371.91,499.88 372.42,498.76 372.92,497.75 373.43,496.88 373.93,496.15 374.43,495.58 374.94,495.18 375.44,494.95 375.94,494.91 376.45,495.04 376.95,495.35 377.46,495.84 377.96,496.49 378.46,497.29 378.97,498.23 379.47,499.30 379.97,500.46 380.48,501.71 380.98,503.02 381.49,504.37 381.99,505.74 382.49,507.09 383.00,508.41 383.50,509.68 384.00,510.87 384.51,511.95 385.01,512.92 385.51,513.75 386.02,514.44 386.52,514.96 387.03,515.31 387.53,515.48 388.03,515.47 388.54,515.29 389.04,514.92 389.55,514.38 390.05,513.69 390.55,512.84 391.06,511.86 391.56,510.77 392.06,509.57 392.57,508.30 393.07,506.98 393.58,505.62 394.08,504.26 394.58,502.91 395.09,501.60 395.59,500.36 396.09,499.20 396.60,498.15 397.10,497.22 397.61,496.43 398.11,495.79 398.61,495.32 399.12,495.02 399.62,494.90 400.12,494.96 400.63,495.21 401.13,495.62 401.63,496.21 402.14,496.95 402.64,497.84 403.15,498.85 403.65,499.98 404.15,501.20 404.66,502.49 405.16,503.83 405.67,505.19 406.17,506.55 406.67,507.89 407.18,509.18 407.68,510.40 408.18,511.53 408.69,512.55 409.19,513.44 409.70,514.18 410.20,514.77 410.70,515.19 411.21,515.43 411.71,515.50 412.21,515.38 412.72,515.09 413.22,514.62 413.73,513.99 414.23,513.20 414.73,512.27 415.24,511.22 415.74,510.07 416.24,508.82 416.75,507.52 417.25,506.17 417.75,504.81 418.26,503.45 418.76,502.12 419.27,500.85 419.77,499.66 420.27,498.56 420.78,497.58 421.28,496.73 421.79,496.03 422.29,495.49 422.79,495.12 423.30,494.93 423.80,494.92" fill="none" stroke="#1a1c4e" stroke-width="2.5" stroke-linecap="round"/>
<rect x="438" y="438.5" width="143.6" height="65.2" fill="#f6d0f5"/>
<circle cx="412.2" cy="304.8" r="55.2" fill="none" stroke="#d0f5f3" stroke-width="7"/>
<circle cx="412.2" cy="304.8" r="58.7" fill="none" stroke="#111" stroke-width="1.9"/>
<circle cx="412.2" cy="304.8" r="51.7" fill="#f3fafd" stroke="#111" stroke-width="1.9"/>
<rect x="401.70000000000005" y="267.70000000000005" width="27.5" height="9" rx="4.5" ry="4.5" fill="#ee14ee" stroke="#6a0c74" stroke-width="1.2"/>
<rect x="422.40000000000003" y="285.90000000000003" width="27.5" height="9" rx="4.5" ry="4.5" fill="#ee14ee" stroke="#6a0c74" stroke-width="1.2"/>
<rect x="398.70000000000005" y="302.70000000000005" width="27.5" height="9" rx="4.5" ry="4.5" fill="#ee14ee" stroke="#6a0c74" stroke-width="1.2"/>
<ellipse cx="507.7" cy="303.4" rx="34.8" ry="33.0" fill="#f5fbfe" stroke="#2a88d6" stroke-width="3.1"/>
<path d="M516.90,292.00 L511.54,298.61 A8.9,8.9 0 1 0 511.54,285.39 Z" fill="#c314cb"/>
<path d="M494.20,305.70 L488.84,312.31 A8.9,8.9 0 1 0 488.84,299.09 Z" fill="#c314cb"/>
<path d="M520.40,316.00 L515.04,322.61 A8.9,8.9 0 1 0 515.04,309.39 Z" fill="#c314cb"/>
<g font-family="Liberation Sans" font-weight="bold" fill="#0c0c0c" stroke="#0c0c0c" stroke-width="0.35">
<text x="54.0" y="37.6" font-size="22" text-anchor="middle">LPS</text>
<text x="103.0" y="73.6" font-size="22" text-anchor="middle">TLR4</text>
<text x="362.7" y="74.0" font-size="25.6" text-anchor="middle">ABCG2</text>
<text x="519.0" y="45.4" font-size="22.4" text-anchor="middle">Extracellular</text>
<text x="519.0" y="72" font-size="22.2" text-anchor="middle">space</text>
<text x="521.8" y="161.55" font-size="22.6" text-anchor="middle">Cytoplasm</text>
<text transform="translate(56.0,251) scale(0.965,1)" x="0" y="0" font-size="22" text-anchor="middle">IRG1</text>
<text x="182.2" y="201.3" font-size="22.5" text-anchor="middle">ITA</text>
<text x="197.5" y="341" font-size="22.4" text-anchor="middle">Alkylation</text>
<text x="266.3" y="390.6" font-size="22" text-anchor="middle">TFEB</text>
<text x="267.5" y="485" font-size="22" text-anchor="middle">TFEB</text>
<text x="197.7" y="433.6" font-size="22" text-anchor="middle">Activation</text>
<text x="413.2" y="234.0" font-size="22.45" text-anchor="middle">Vacuole</text>
<text x="527.0" y="257.75" font-size="22.25" text-anchor="middle">Lysosome</text>
<text x="413.2" y="334.0" font-size="18.8" text-anchor="middle">Bacteria</text>
<text x="426.0" y="408.75" font-size="22.3" text-anchor="middle">Bacteriolysis</text>
<text x="507.9" y="466.3" font-size="22.8" text-anchor="middle">Lysosomal</text>
<text x="508.3" y="492.6" font-size="22.4" text-anchor="middle">biogenesis</text>
</g>
</svg></body></html>
